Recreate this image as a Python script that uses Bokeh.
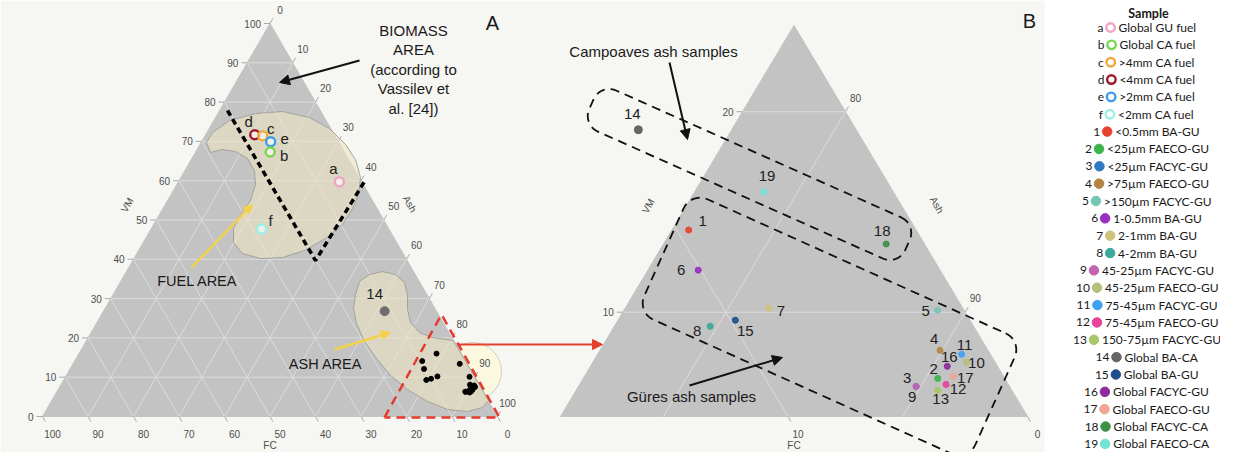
import math
import numpy as np
from bokeh.plotting import figure
from bokeh.models import Range1d, Arrow, NormalHead
from bokeh.core.properties import value
from bokeh.embed import file_html
from bokeh.resources import INLINE

# ------------------------------------------------------------------ data
fuel_ids = ["a", "b", "c", "d", "e", "f"]
fuel_names = ["Global GU fuel", "Global CA fuel", ">4mm CA fuel",
              "<4mm CA fuel", ">2mm CA fuel", "<2mm CA fuel"]
fuel_vm = [59.7, 67.3, 71.4, 71.7, 69.9, 47.7]
fuel_ash = [35.4, 16.4, 12.7, 10.8, 15.2, 24.3]
fuel_fc = [4.9, 16.3, 15.9, 17.5, 14.9, 28.0]
fuel_colors = ["#f2a1c9", "#7ad64f", "#f3a83a", "#9e1b2d", "#3b9cf0", "#9ff0e8"]

ash_ids = [str(i) for i in range(1, 20)]
ash_names = ["<0.5mm BA-GU", "<25µm FAECO-GU", "<25µm FACYC-GU", ">75µm FAECO-GU",
             ">150µm FACYC-GU", "1-0.5mm BA-GU", "2-1mm BA-GU", "4-2mm BA-GU",
             "45-25µm FACYC-GU", "45-25µm FAECO-GU", "75-45µm FACYC-GU",
             "75-45µm FAECO-GU", "150-75µm FACYC-GU", "Global BA-CA", "Global BA-GU",
             "Global FACYC-GU", "Global FAECO-GU", "Global FACYC-CA", "Global FAECO-CA"]
ash_vm = [14.1, 6.7, 6.3, 8.1, 10.1, 12.1, 10.2, 9.3, 6.3, 7.5, 7.9, 6.4, 6.1,
          26.8, 9.6, 7.3, 6.8, 13.4, 16.0]
ash_ash = [76.4, 90.5, 89.8, 89.9, 88.8, 77.8, 81.7, 79.7, 89.8, 91.3, 90.9, 91.0, 90.8,
           61.8, 80.6, 90.6, 91.1, 85.0, 78.6]
ash_fc = [9.5, 2.8, 3.9, 2.0, 1.1, 10.1, 8.1, 11.0, 3.9, 1.2, 1.2, 2.6, 3.1,
          11.4, 9.8, 2.1, 2.1, 1.6, 5.4]
ash_colors = ["#e8412c", "#3db44a", "#2f78c4", "#b5843f", "#74c6b4", "#9b2fc2",
              "#cfc27d", "#3aa89b", "#c464b4", "#b3c07a", "#3ea2f2", "#e6439b",
              "#a9c766", "#666666", "#1d4f8c", "#8d2b9e", "#f2a595", "#3f8f45", "#72e3d4"]

# sample 14 lies outside panel B's window; it is shown there at a key position
b14_vm, b14_ash, b14_fc = 19.1, 71.8, 9.1

ticks_a = list(range(0, 101, 10))
ticks_b_vm = [10, 20]
ticks_b_ash = [80, 90]
ticks_b_fc = [0, 10]

# ------------------------------------------------------------------ layout
Y0 = 460  # figure y = Y0 - page y  (1 data unit = 1 px)
PANEL_A = dict(x0=50, x1=505, yb=424, yt=31, amin=0.0, bmin=0.0, rng=100.0)
PANEL_B = dict(x0=568, x1=1035, yb=424, yt=33, amin=4.8, bmin=75.7, rng=19.5)
FONT = value("Liberation Sans")
GREY_TRI = "#c3c3c3"
GRID = "#dcdcdc"
TICK_C = "#4d4d4d"


def tern(pn, vm, ash):
    a = (np.asarray(vm, float) - pn["amin"]) / pn["rng"]
    b = (np.asarray(ash, float) - pn["bmin"]) / pn["rng"]
    xp = pn["x0"] + (pn["x1"] - pn["x0"]) * (b + a / 2.0)
    yp = pn["yb"] - (pn["yb"] - pn["yt"]) * a
    return xp, Y0 - yp


def pg(pts):
    xs = [q[0] for q in pts]
    ys = [Y0 - q[1] for q in pts]
    return xs, ys


p = figure(width=1220, height=452, x_range=Range1d(8, 1228), y_range=Range1d(0, 452),
           output_backend="svg", toolbar_location=None, min_border=0,
           x_axis_location=None, y_axis_location=None)
p.grid.visible = False
p.outline_line_color = None
p.background_fill_color = "white"
p.border_fill_color = "white"

# panel background
p.quad(left=8, right=1052, bottom=0, top=452, fill_color="#f6f6f3", line_color=None)

# zoom indicator circle (behind triangle A)
p.circle(x=[480], y=[Y0 - 379], radius=29, fill_color="#fbf8df", line_color="#cfcfc0", line_width=1)


def draw_triangle(pn, vm_t, ash_t, fc_t, grid_vm, grid_ash, grid_fc):
    amin, bmin, rng = pn["amin"], pn["bmin"], pn["rng"]
    cmin = 100.0 - rng - amin - bmin
    tx, ty = tern(pn, [amin, amin, 100 - bmin - cmin], [bmin, 100 - amin - cmin, bmin])
    p.patch(x=list(tx), y=list(ty), fill_color=GREY_TRI, line_color=GREY_TRI, line_width=1)
    xs, ys = [], []
    for v in grid_vm:
        gx, gy = tern(pn, [v, v], [bmin, 100 - v - cmin]); xs.append(list(gx)); ys.append(list(gy))
    for v in grid_ash:
        gx, gy = tern(pn, [amin, 100 - v - cmin], [v, v]); xs.append(list(gx)); ys.append(list(gy))
    for v in grid_fc:
        gx, gy = tern(pn, [amin, 100 - v - bmin], [100 - v - amin, bmin]); xs.append(list(gx)); ys.append(list(gy))
    p.multi_line(xs=xs, ys=ys, line_color=GRID, line_width=1)

    # ticks + labels
    txs, tys = [], []
    ex, ey = tern(pn, vm_t, [bmin] * len(vm_t))
    for x, y in zip(ex, ey):
        txs.append([x - 6, x]); tys.append([y, y])
    p.text(x=list(ex - 9), y=list(ey), text=[str(v) for v in vm_t], text_font=FONT,
           text_font_size="10px", text_color=TICK_C, text_align="right", text_baseline="middle")
    ex, ey = tern(pn, [100 - v - cmin for v in ash_t], ash_t)
    for x, y in zip(ex, ey):
        txs.append([x, x + 3]); tys.append([y, y + 5.2])
    p.text(x=list(ex + 10), y=list(ey + 14), text=[str(v) for v in ash_t], text_font=FONT,
           text_font_size="10px", text_color=TICK_C, text_align="center", text_baseline="middle")
    ex, ey = tern(pn, [amin] * len(fc_t), [100 - v - amin for v in fc_t])
    for x, y in zip(ex, ey):
        txs.append([x, x + 3]); tys.append([y, y - 5.2])
    p.text(x=list(ex + 10), y=list(ey - 17), text=[str(v) for v in fc_t], text_font=FONT,
           text_font_size="10px", text_color=TICK_C, text_align="center", text_baseline="middle")
    p.multi_line(xs=txs, ys=tys, line_color="#aaaaaa", line_width=1)

    # axis titles
    lx, rx = tx[0], tx[1]
    apx, apy, by = tx[2], ty[2], ty[0]
    p.text(x=[(lx + apx) / 2 - 29], y=[(by + apy) / 2 + 15], text=["VM"], angle=math.pi / 3,
           text_font=FONT, text_font_size="10px", text_color=TICK_C,
           text_align="center", text_baseline="middle")
    p.text(x=[(rx + apx) / 2 + 26], y=[(by + apy) / 2 + 16], text=["Ash"], angle=-math.pi / 3,
           text_font=FONT, text_font_size="10px", text_color=TICK_C,
           text_align="center", text_baseline="middle")
    p.text(x=[(lx + rx) / 2], y=[by - 29], text=["FC"], text_font=FONT, text_font_size="10px",
           text_color=TICK_C, text_align="center", text_baseline="middle")


draw_triangle(PANEL_A, ticks_a, ticks_a, ticks_a, ticks_a[1:-1], ticks_a[1:-1], ticks_a[1:-1])
draw_triangle(PANEL_B, ticks_b_vm, ticks_b_ash, ticks_b_fc, ticks_b_vm, ticks_b_ash, [10])

# ------------------------------------------------------------------ panel A areas
fuel_blob = [(214, 150), (220, 140), (237, 128), (263, 121), (290, 119), (317, 125), (337, 136),
             (353, 152), (363, 167), (368, 185), (366, 202), (360, 216), (350, 232), (333, 246),
             (312, 258), (290, 265), (268, 266), (250, 261), (241, 250), (241, 236), (248, 222),
             (258, 208), (263, 192), (262, 178), (255, 166), (243, 159), (229, 157), (218, 160)]
ash_blob = [(363, 302), (367, 289), (377, 282), (390, 279), (403, 282), (412, 290), (415, 303),
            (415, 317), (418, 330), (427, 340), (440, 345), (461, 348), (496, 408), (490, 415),
            (475, 419), (455, 417), (435, 409), (415, 397), (398, 383), (384, 366), (372, 349),
            (364, 331), (361, 316)]
for blob in (fuel_blob, ash_blob):
    bx, by_ = pg(blob)
    p.patch(x=bx, y=by_, fill_color="#ebe4c3", fill_alpha=0.6, line_color="#a3a39c", line_width=1)

vx, vy = pg([(235, 118), (323, 268), (372, 189)])
p.line(x=vx, y=vy, line_color="black", line_width=3.5, line_dash="6 4")
rx_, ry_ = pg([(392, 425), (449, 322), (507, 425), (392, 425)])
p.line(x=rx_, y=ry_, line_color="#e53b2f", line_width=2.5, line_dash="9 6")

# ------------------------------------------------------------------ panel A points
ax, ay = tern(PANEL_A, ash_vm, ash_ash)
others = [i for i in range(19) if ash_ids[i] != "14"]
p.scatter(x=[ax[i] for i in others], y=[ay[i] for i in others], size=5,
          fill_color="black", line_color="black")
i14 = ash_ids.index("14")
p.scatter(x=[ax[i14]], y=[ay[i14]], size=9, fill_color="#6e6e6e", line_color="#6e6e6e")
p.text(x=[ax[i14] - 10], y=[ay[i14] + 17], text=["14"], text_font=FONT, text_font_size="15px",
       text_color="#222222", text_align="center", text_baseline="middle")

fx, fy_ = tern(PANEL_A, fuel_vm, fuel_ash)
fuel_order = [3, 2, 4, 1, 0, 5]
p.scatter(x=[fx[i] for i in fuel_order], y=[fy_[i] for i in fuel_order], size=9,
          fill_color="white", fill_alpha=0.6, line_color=[fuel_colors[i] for i in fuel_order],
          line_width=2.4)
fuel_lab_off = {"a": (-6, -13), "b": (14, 3), "c": (8, -7), "d": (-6, -13), "e": (14, -3), "f": (9, -9)}
p.text(x=[fx[i] + fuel_lab_off[k][0] for i, k in enumerate(fuel_ids)],
       y=[fy_[i] - fuel_lab_off[k][1] for i, k in enumerate(fuel_ids)],
       text=fuel_ids, text_font=FONT, text_font_size="15px", text_color="#222222",
       text_align="center", text_baseline="middle")

# ------------------------------------------------------------------ panel B points
bx_, by2 = tern(PANEL_B, ash_vm, ash_ash)
p.scatter(x=[bx_[i] for i in others], y=[by2[i] for i in others], size=6,
          fill_color=[ash_colors[i] for i in others], line_color=[ash_colors[i] for i in others],
          fill_alpha=0.9)
kx, ky = tern(PANEL_B, [b14_vm], [b14_ash])
p.scatter(x=list(kx), y=list(ky), size=8, fill_color="#666666", line_color="#666666")
ash_lab_off = [(14, -9), (-4, -9), (-9, -8), (-6, -11), (-12, 1), (-17, 0), (12, 3), (-13, 5),
               (-4, 11), (10, 1), (3, -9), (12, 5), (3, 9), (-6, -16), (10, 11), (2, -9),
               (12, 2), (-4, -13), (3, -16)]
lx_, ly_ = [], []
for i in range(19):
    if ash_ids[i] == "14":
        x0, y0 = kx[0], ky[0]
    else:
        x0, y0 = bx_[i], by2[i]
    lx_.append(x0 + ash_lab_off[i][0]); ly_.append(y0 - ash_lab_off[i][1])
p.text(x=lx_, y=ly_, text=ash_ids, text_font=FONT, text_font_size="15px", text_color="#222222",
       text_align="center", text_baseline="middle")


# dashed rounded boxes in panel B
def rounded_rect(cx, cy, L, W, r, ang_deg, n=10):
    th = math.radians(ang_deg)
    ux, uy = math.cos(th), math.sin(th)
    nx, ny = -math.sin(th), math.cos(th)
    hl, hw = L / 2 - r, W / 2 - r
    pts = []
    for s, t, a0, a1 in [(hl, -hw, -90, 0), (hl, hw, 0, 90), (-hl, hw, 90, 180), (-hl, -hw, 180, 270)]:
        for k in range(n + 1):
            a = math.radians(a0 + (a1 - a0) * k / n)
            ls, lt = s + r * math.cos(a), t + r * math.sin(a)
            pts.append((cx + ls * ux + lt * nx, cy + ls * uy + lt * ny))
    pts.append(pts[0])
    return pts


for box in (rounded_rect(757, 182, 346, 45, 17, 24.0), rounded_rect(837, 334, 363, 132, 18, 24.2)):
    bxs, bys = pg(box)
    p.line(x=bxs, y=bys, line_color="#111111", line_width=1.8, line_dash="9 6")


# ------------------------------------------------------------------ texts and arrows
def label(x, y, s, size, **kw):
    p.text(x=[x], y=[Y0 - y], text=[s], text_font=FONT, text_font_size=size,
           text_color=kw.get("color", "#1a1a1a"), text_align=kw.get("align", "center"),
           text_baseline="middle")


for j, line in enumerate(["BIOMASS", "AREA", "(according to", "Vassilev et", "al. [24])"]):
    label(421, 38 + 19.4 * j, line, "15px")
label(205, 288, "FUEL AREA", "14.5px")
label(333, 371, "ASH AREA", "14.5px")
label(661, 59, "Campoaves ash samples", "15px")
label(699, 404, "Güres ash samples", "15px")
label(500, 30, "A", "20px")
label(1037, 28, "B", "20px")


def arrow(xa, ya, xb, yb, color, width, head):
    p.add_layout(Arrow(end=NormalHead(size=head, fill_color=color, line_color=color, line_width=1),
                       x_start=xa, y_start=Y0 - ya, x_end=xb, y_end=Y0 - yb,
                       line_color=color, line_width=width))


arrow(367, 68, 287, 90, "#111111", 2, 10)
arrow(199, 275, 260, 212, "#f3d24a", 2.5, 9)
arrow(342, 357, 398, 340, "#f3d24a", 2.5, 9)
arrow(465, 352, 610, 352, "#e3402e", 2, 10)
arrow(677, 70, 695, 147, "#111111", 2, 10)
arrow(697, 393, 790, 365, "#111111", 2, 10)

# ------------------------------------------------------------------ legend
LATO_W = {' ': 0.26, '-': 0.34, '.': 0.25, '<': 0.58, '>': 0.58, 'µ': 0.56,
          'A': 0.68, 'B': 0.65, 'C': 0.66, 'D': 0.74, 'E': 0.56, 'F': 0.54, 'G': 0.72,
          'L': 0.50, 'M': 0.86, 'O': 0.78, 'R': 0.63, 'S': 0.55, 'U': 0.73, 'Y': 0.61,
          'a': 0.50, 'b': 0.56, 'c': 0.46, 'd': 0.56, 'e': 0.52, 'f': 0.32, 'h': 0.55,
          'i': 0.24, 'l': 0.24, 'm': 0.84, 'n': 0.55, 'o': 0.55, 'p': 0.56, 'r': 0.36,
          's': 0.43, 't': 0.35, 'u': 0.55, 'y': 0.50}
LEG_FS = 12.0


def tw(s):
    return sum(LATO_W.get(ch, 0.58) for ch in s) * LEG_FS


leg_ids = fuel_ids + ash_ids
leg_names = fuel_names + ash_names
leg_colors = fuel_colors + ash_colors
LEG_CX, LEG_Y0, LEG_DY = 1154, 35, 17.35
mx, my = [], []
for i, (k, s) in enumerate(zip(leg_ids, leg_names)):
    mx.append(LEG_CX - (1 + tw(s) - tw(k)) / 2.0)
    my.append(Y0 - (LEG_Y0 + LEG_DY * i))
LFONT = value("Lato")
p.text(x=[LEG_CX + 2], y=[Y0 - 21], text=["Sample"], text_font=LFONT, text_font_size="12.5px",
       text_font_style="bold", text_color="#1a1a1a", text_align="center", text_baseline="middle")
p.text(x=[m - 7 for m in mx], y=my, text=leg_ids, text_font=LFONT, text_font_size="12px",
       text_color="#1a1a1a", text_align="right", text_baseline="middle")
p.text(x=[m + 8 for m in mx], y=my, text=leg_names, text_font=LFONT, text_font_size="12px",
       text_color="#1a1a1a", text_align="left", text_baseline="middle")
nf = len(fuel_ids)
p.scatter(x=mx[:nf], y=my[:nf], size=8.5, fill_color="white", line_color=fuel_colors, line_width=2.4)
p.scatter(x=mx[nf:], y=my[nf:], size=9.5, fill_color=ash_colors, line_color=ash_colors)

open("out.html", "w").write(file_html(p, INLINE))
